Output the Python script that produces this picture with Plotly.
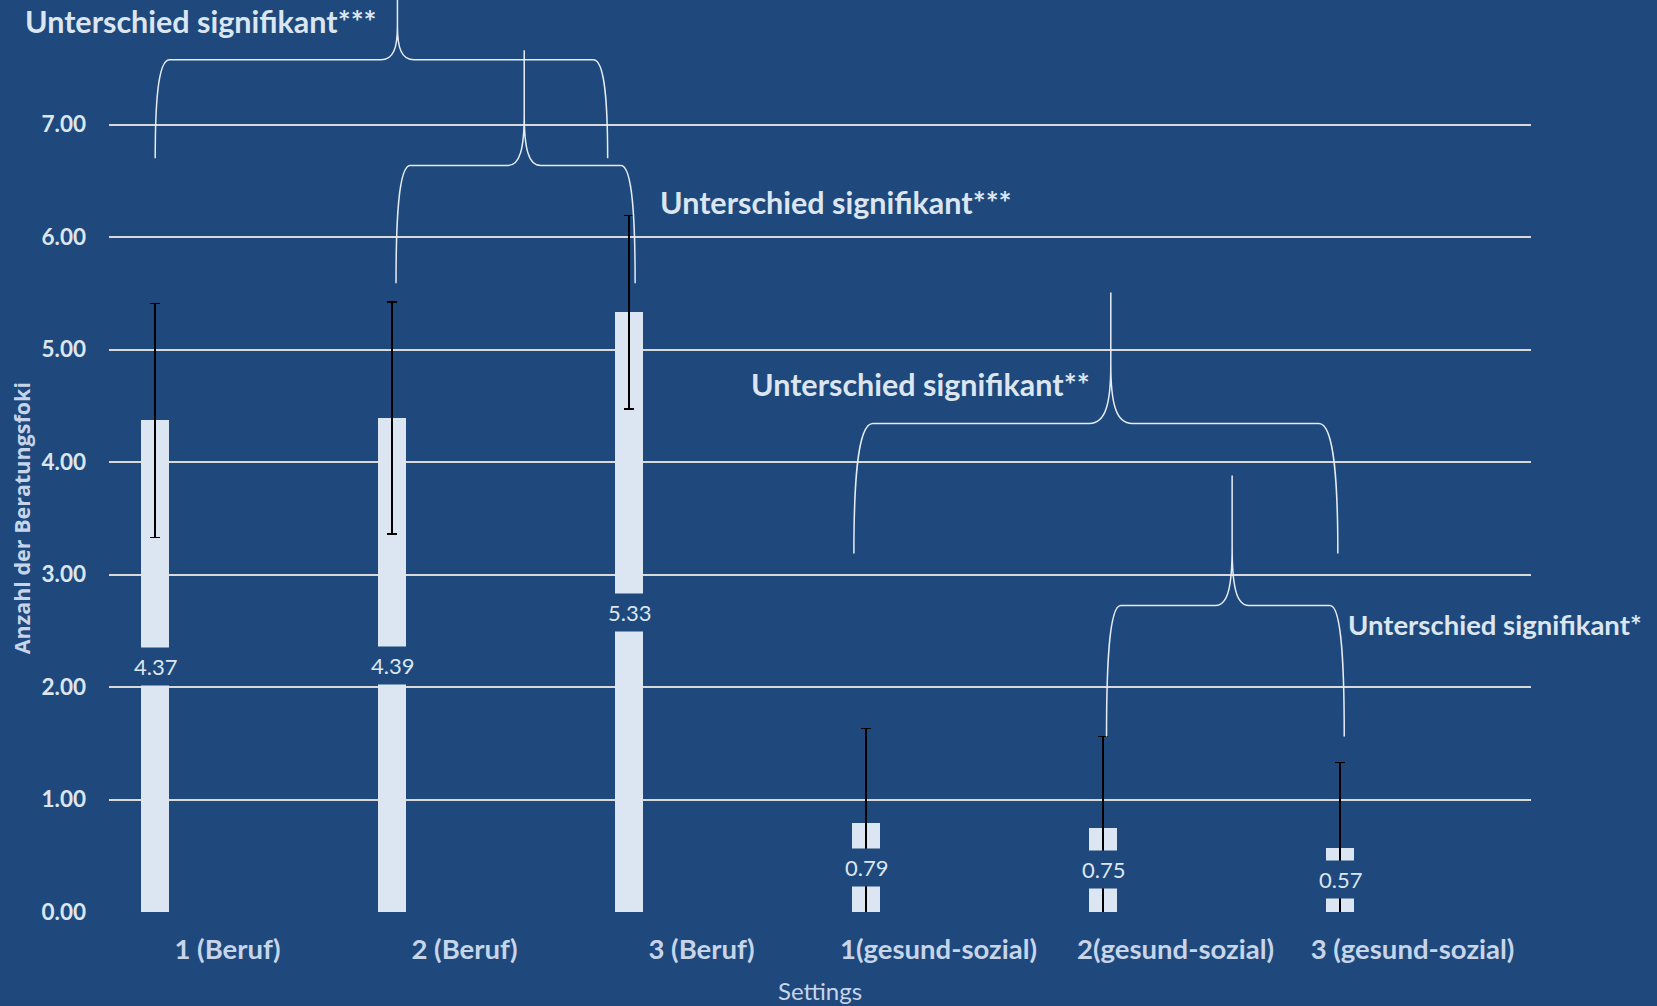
import plotly.graph_objects as go

# ---------------- data ----------------
categories = ["1 (Beruf)", "2 (Beruf)", "3 (Beruf)",
              "1(gesund-sozial)", "2(gesund-sozial)", "3 (gesund-sozial)"]
means = [4.37, 4.39, 5.33, 0.79, 0.75, 0.57]
sd = [1.04, 1.03, 0.86, 0.84, 0.81, 0.76]
y_ticks = [0, 1, 2, 3, 4, 5, 6, 7]
sig_labels = ["Unterschied signifikant***", "Unterschied signifikant***",
              "Unterschied signifikant**", "Unterschied signifikant*"]
y_title = "Anzahl der Beratungsfoki"
x_title = "Settings"

# ---------------- style ----------------
BG = "#1F497D"
BAR = "#DCE6F2"
TXT = "#DCE6F2"
XTXT = "#C6D5EA"
GRID = "#D9D9D9"
FONT = "Lato"
BAR_SHIFT = -0.305
BAR_W = 0.116
Y_TOP = 8.107

xpos = [i + BAR_SHIFT for i in range(len(categories))]

fig = go.Figure()
fig.add_trace(go.Bar(
    x=xpos, y=means, width=BAR_W,
    marker=dict(color=BAR, line=dict(width=0)),
    error_y=dict(type="data", array=sd, color="black", thickness=1.6, width=5),
    hoverinfo="skip", showlegend=False,
))

# value labels (centered, with background box)
for x, m in zip(xpos, means):
    fig.add_annotation(x=x, y=m / 2, xref="x", yref="y", text=f"{m:.2f}",
                       showarrow=False, bgcolor=BG, borderpad=5,
                       font=dict(family=FONT, size=22, color=TXT))

# curly braces (geometry)
braces = [
    dict(x0=-0.305, x1=1.604, xt=0.717, yb=6.70, yh=7.575, yt=8.25, dx=0.06, dt=0.07),
    dict(x0=0.711, x1=1.72, xt=1.252, yb=5.59, yh=6.635, yt=7.66, dx=0.06, dt=0.07),
    dict(x0=2.643, x1=4.685, xt=3.727, yb=3.186, yh=4.342, yt=5.508, dx=0.08, dt=0.09),
    dict(x0=3.709, x1=4.712, xt=4.239, yb=1.56, yh=2.725, yt=3.88, dx=0.06, dt=0.07),
]


def brace_path(b):
    x0, x1, xt = b["x0"], b["x1"], b["xt"]
    yb, yh, yt = b["yb"], b["yh"], b["yt"]
    dx, dt = b["dx"], b["dt"]
    L = yh - yb
    H = yt - yh
    p = []
    p.append(f"M {x0},{yb}")
    p.append(f"C {x0},{yb + 0.5 * L} {x0 + 0.15 * dx},{yh} {x0 + dx},{yh}")
    p.append(f"L {xt - dt},{yh}")
    p.append(f"C {xt - 0.25 * dt},{yh} {xt},{yh + 0.15 * H} {xt},{yh + 0.45 * H}")
    p.append(f"L {xt},{yt}")
    p.append(f"L {xt},{yh + 0.45 * H}")
    p.append(f"C {xt},{yh + 0.15 * H} {xt + 0.25 * dt},{yh} {xt + dt},{yh}")
    p.append(f"L {x1 - dx},{yh}")
    p.append(f"C {x1 - 0.15 * dx},{yh} {x1},{yb + 0.5 * L} {x1},{yb}")
    return " ".join(p)


for b in braces:
    fig.add_shape(type="path", path=brace_path(b), xref="x", yref="y",
                  line=dict(color="#E6ECF5", width=1.5))

# significance texts (paper coordinates)
sig_pos = [(-0.0605, 0.977), (0.386, 0.7785), (0.450, 0.579), (0.870, 0.315)]
sig_size = [30.5, 30.5, 30.5, 27.5]
for txt, (px, py), fs in zip(sig_labels, sig_pos, sig_size):
    fig.add_annotation(x=px, y=py, xref="paper", yref="paper", text=f"<b>{txt}</b>",
                       showarrow=False, xanchor="left", yanchor="middle",
                       font=dict(family=FONT, size=fs, color=TXT))

# y axis title
fig.add_annotation(x=-0.0619, y=3.5 / Y_TOP, xref="paper", yref="paper",
                   text=f"<b>{y_title}</b>", textangle=-90, showarrow=False,
                   xanchor="center", yanchor="middle",
                   font=dict(family="Open Sans", size=21.5, color=XTXT))

# x axis title
fig.add_annotation(x=0.5, y=-0.0866, xref="paper", yref="paper",
                   text=x_title, showarrow=False,
                   xanchor="center", yanchor="middle",
                   font=dict(family=FONT, size=24, color=XTXT))

fig.update_layout(
    width=1657, height=1006,
    paper_bgcolor=BG, plot_bgcolor=BG,
    margin=dict(l=109, r=126, t=0, b=94),
    bargap=0,
    xaxis=dict(
        range=[-0.5, len(categories) - 0.5],
        tickvals=list(range(len(categories))), ticktext=[f"<b>{c}</b>" for c in categories],
        showgrid=False, zeroline=False, showline=False, ticks="",
        tickfont=dict(family=FONT, size=27.5, color=XTXT),
        ticklabelstandoff=18,
    ),
    yaxis=dict(
        range=[0, Y_TOP], tickvals=y_ticks, tickformat=".2f",
        showgrid=True, gridcolor=GRID, gridwidth=1.5,
        zeroline=False, showline=False, ticks="",
        tickfont=dict(family=FONT, size=22.5, color=TXT, weight="bold"),
        ticklabelstandoff=22,
    ),
)

fig.write_html("out.html", config={"displayModeBar": False},
               post_script="document.body.style.margin='0';document.body.style.overflow='hidden';")
